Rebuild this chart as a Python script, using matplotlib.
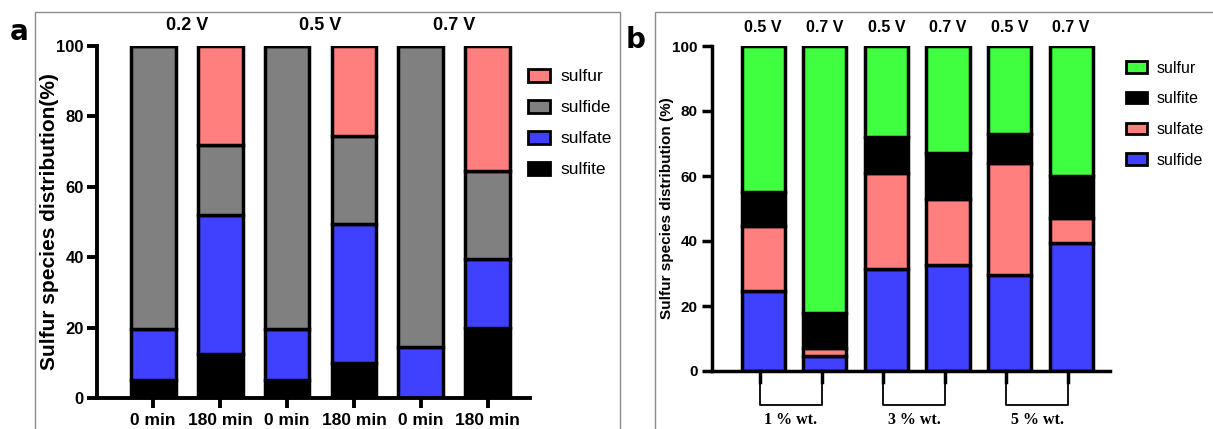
import matplotlib
matplotlib.use("Agg")
import matplotlib.pyplot as plt
import matplotlib.transforms as mtransforms
from matplotlib.patches import Rectangle, Patch
import numpy as np

plt.rcParams['font.family'] = ['Liberation Sans', 'DejaVu Sans']
plt.rcParams['font.weight'] = 'bold'
plt.rcParams['axes.labelweight'] = 'bold'

# panel a: stacked species per sample (%)
a_ticks = ['0 min', '180 min', '0 min', '180 min', '0 min', '180 min']
a_volts = ['0.2 V', '0.5 V', '0.7 V']
a_sulfite = [5, 12.5, 5, 10, 0, 20]
a_sulfate = [14.5, 39.5, 14.5, 39.5, 14.5, 19.5]
a_sulfide = [80.5, 20, 80.5, 25, 85.5, 25]
a_sulfur = [0, 28, 0, 25.5, 0, 35.5]

# panel b: stacked species per loading / potential (%)
b_volts = ['0.5 V', '0.7 V', '0.5 V', '0.7 V', '0.5 V', '0.7 V']
b_groups = ['1 % wt.', '3 % wt.', '5 % wt.']
b_sulfide = [24.5, 4.5, 31.5, 32.5, 29.5, 39.5]
b_sulfate = [20, 2.5, 29.5, 20.5, 34.5, 7.5]
b_sulfite = [10.5, 11, 11, 14, 9, 13]
b_sulfur = [45, 82, 28, 33, 27, 40]

GRAY = '#808080'
BLUE = '#4040ff'
PINK = '#ff7f7f'
GREEN = '#40ff40'

W, H = 1213, 429
fig = plt.figure(figsize=(W / 100, H / 100), dpi=100)

def fx(px):
    return px / W

def fy(py):
    return 1 - py / H

# panel frames
fig.patches.append(Rectangle((fx(35), fy(440)), fx(620) - fx(35), fy(12) - fy(440),
                             transform=fig.transFigure, fill=False, ec='#8c8c8c', lw=1))
fig.patches.append(Rectangle((fx(655), fy(440)), fx(1220) - fx(655), fy(12) - fy(440),
                             transform=fig.transFigure, fill=False, ec='#8c8c8c', lw=1))
fig.text(fx(10), fy(32), 'a', fontsize=20, fontweight='bold', family='DejaVu Sans', va='center')
fig.text(fx(626), fy(40), 'b', fontsize=20, fontweight='bold', family='DejaVu Sans', va='center')


def style_axes(ax, lw):
    for s in ['top', 'right']:
        ax.spines[s].set_visible(False)
    for s in ['left', 'bottom']:
        ax.spines[s].set_linewidth(lw)
    ax.set_ylim(0, 100)
    ax.set_yticks([0, 20, 40, 60, 80, 100])
    ax.tick_params(axis='both', width=lw, length=7, direction='out')


def stack(ax, x, layers, colors, width):
    bottom = np.zeros(len(x))
    for vals, c in zip(layers, colors):
        vals = np.array(vals, dtype=float)
        ax.bar(x, vals, width, bottom=bottom, color=c, edgecolor='black', linewidth=2.5)
        bottom += vals


# ---------- panel a ----------
axa = fig.add_axes([fx(97), fy(398), fx(530) - fx(97), fy(46) - fy(398)])
xa = np.arange(len(a_ticks))
stack(axa, xa, [a_sulfite, a_sulfate, a_sulfide, a_sulfur], ['black', BLUE, GRAY, PINK], 0.67)
style_axes(axa, 2.8)
axa.set_xlim(-0.84, 5.63)
axa.set_xticks(xa)
axa.set_xticklabels(a_ticks, fontsize=12.5)
axa.tick_params(axis='y', labelsize=12, pad=2.5)
axa.set_ylabel('Sulfur species distribution(%)', fontsize=15)
axa.yaxis.set_label_coords(-0.087, 0.5)
for i, v in enumerate(a_volts):
    axa.text(2 * i + 0.5, 103.5, v, ha='center', va='bottom', fontsize=13, fontweight='bold')
ha = [Patch(fc=PINK, ec='black', lw=2), Patch(fc=GRAY, ec='black', lw=2),
      Patch(fc=BLUE, ec='black', lw=2), Patch(fc='black', ec='black', lw=2)]
axa.legend(ha, ['sulfur', 'sulfide', 'sulfate', 'sulfite'], loc='upper left',
           bbox_to_anchor=(0.995, 0.935), frameon=False, prop={'size': 12.5, 'weight': 'normal'},
           handlelength=1.3, handleheight=0.75, labelspacing=0.9, handletextpad=0.6,
           borderaxespad=0, borderpad=0)

# ---------- panel b ----------
axb = fig.add_axes([fx(712), fy(371), fx(1110) - fx(712), fy(46) - fy(371)])
xb = np.arange(len(b_volts))
stack(axb, xb, [b_sulfide, b_sulfate, b_sulfite, b_sulfur], [BLUE, PINK, 'black', GREEN], 0.70)
style_axes(axb, 2.5)
axb.set_xlim(-0.83, 5.63)
axb.set_xticks([])
axb.tick_params(axis='y', labelsize=11)
axb.set_ylabel('Sulfur species distribution (%)', fontsize=11)
axb.yaxis.set_label_coords(-0.095, 0.5)
for i, v in enumerate(b_volts):
    axb.text(i, 103.5, v, ha='center', va='bottom', fontsize=11.5, fontweight='bold')
hb = [Patch(fc=GREEN, ec='black', lw=2), Patch(fc='black', ec='black', lw=2),
      Patch(fc=PINK, ec='black', lw=2), Patch(fc=BLUE, ec='black', lw=2)]
axb.legend(hb, ['sulfur', 'sulfite', 'sulfate', 'sulfide'], loc='upper left',
           bbox_to_anchor=(1.04, 0.955), frameon=False, prop={'size': 11.5, 'weight': 'normal'},
           handlelength=1.3, handleheight=0.7, labelspacing=0.98, handletextpad=0.6,
           borderaxespad=0, borderpad=0)

# group brackets under pairs of bars
trans = mtransforms.blended_transform_factory(axb.transData, axb.transAxes)
for g, name in enumerate(b_groups):
    x0, x1 = 2 * g - 0.05, 2 * g + 1 - 0.05
    axb.plot([x0, x0], [0, -0.035], color='black', lw=2.5, transform=trans, clip_on=False)
    axb.plot([x1, x1], [0, -0.035], color='black', lw=2.5, transform=trans, clip_on=False)
    axb.plot([x0, x0, x1, x1], [-0.03, -0.105, -0.105, -0.03], color='black', lw=1.3,
             transform=trans, clip_on=False)
    axb.text((x0 + x1) / 2, -0.125, name, transform=trans, ha='center', va='top',
             fontsize=11.5, fontweight='bold', family='Liberation Serif')

fig.savefig('out.png', dpi=100)
